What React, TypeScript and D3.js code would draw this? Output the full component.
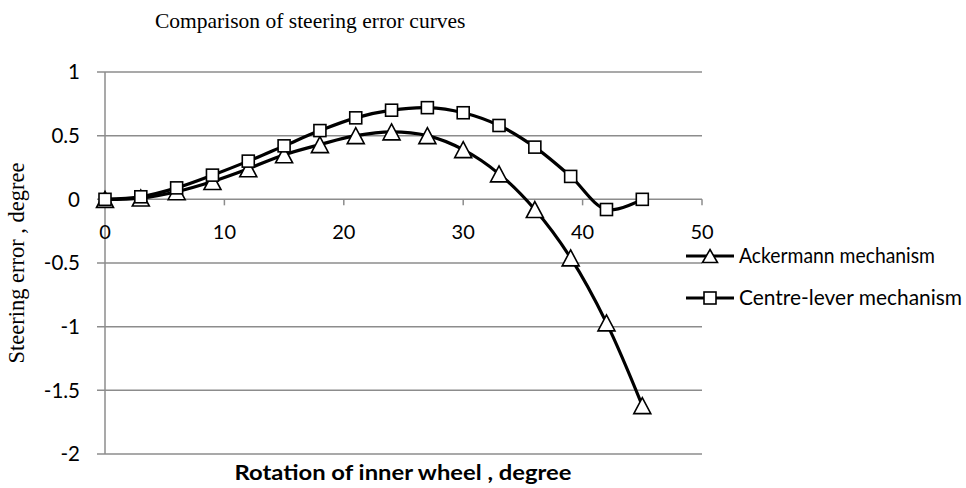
import React from "react";
import * as d3 from "d3";

const angles = [0, 3, 6, 9, 12, 15, 18, 21, 24, 27, 30, 33, 36, 39, 42, 45];
const ackermann = [0, 0.01, 0.06, 0.14, 0.24, 0.35, 0.43, 0.5, 0.53, 0.5, 0.39, 0.2, -0.08, -0.46, -0.97, -1.62];
const centreLever = [0, 0.02, 0.09, 0.19, 0.3, 0.42, 0.54, 0.64, 0.7, 0.72, 0.68, 0.58, 0.41, 0.18, -0.08, 0];
const xTicks = [0, 10, 20, 30, 40, 50];
const yTicks = [1, 0.5, 0, -0.5, -1, -1.5, -2];
const yTickLabels = ["1", "0.5", "0", "-0.5", "-1", "-1.5", "-2"];
const seriesNames = ["Ackermann mechanism", "Centre-lever mechanism"];

const W = 966;
const H = 488;

export default function App() {
  const x = d3.scaleLinear().domain([0, 50]).range([105, 702]);
  const y = d3.scaleLinear().domain([-2, 1]).range([454, 72]);
  const sans = "Lato, 'Open Sans', sans-serif";
  const serif = "'Liberation Serif', 'DejaVu Serif', serif";

  const line = d3
    .line<number>()
    .x((_, i) => x(angles[i]))
    .y((d) => y(d))
    .curve(d3.curveCatmullRom.alpha(0.5));

  const tri = (cx: number, cy: number, w: number, h: number) =>
    `M${cx},${cy - h / 2} L${cx + w / 2},${cy + h / 2} L${cx - w / 2},${cy + h / 2} Z`;

  return (
    <svg width={W} height={H} style={{ position: "absolute", left: 0, top: 0, background: "#fff" }}>
      <rect x={0} y={0} width={W} height={H} fill="#fff" />
      <text x={155} y={28} fontFamily={serif} fontSize={21.5} fill="#000">
        Comparison of steering error curves
      </text>

      {/* gridlines */}
      {yTicks.map((t) => (
        <line key={"g" + t} x1={97} x2={702} y1={y(t)} y2={y(t)} stroke="#8c8c8c" strokeWidth={1.5} />
      ))}
      <line x1={x(0)} x2={x(0)} y1={y(1)} y2={y(-2)} stroke="#8c8c8c" strokeWidth={1.5} />
      {xTicks.map((t) => (
        <line key={"xt" + t} x1={x(t)} x2={x(t)} y1={y(0)} y2={y(0) + 6} stroke="#8c8c8c" strokeWidth={1.5} />
      ))}

      {/* y tick labels */}
      {yTicks.map((t, i) => (
        <text key={"yl" + t} x={80} y={y(t)} dy="0.35em" textAnchor="end" fontFamily={sans} fontSize={20.5} fill="#000">
          {yTickLabels[i]}
        </text>
      ))}
      {/* x tick labels */}
      {xTicks.map((t) => (
        <text key={"xl" + t} x={x(t)} y={239} textAnchor="middle" fontFamily={sans} fontSize={20} fill="#000">
          {t}
        </text>
      ))}

      {/* series */}
      <path d={line(ackermann) || ""} fill="none" stroke="#000" strokeWidth={3.2} />
      <path d={line(centreLever) || ""} fill="none" stroke="#000" strokeWidth={3.2} />
      {ackermann.map((v, i) => (
        <path key={"a" + i} d={tri(x(angles[i]), y(v), 17, 16)} fill="#fff" stroke="#000" strokeWidth={1.6} />
      ))}
      {centreLever.map((v, i) => (
        <rect key={"c" + i} x={x(angles[i]) - 6} y={y(v) - 6} width={12} height={12} fill="#fff" stroke="#000" strokeWidth={1.6} />
      ))}

      {/* axis titles */}
      <text
        transform={`translate(24,263) rotate(-90)`}
        textAnchor="middle"
        fontFamily={serif}
        fontSize={22.5}
        fill="#000"
      >
        Steering error , degree
      </text>
      <text x={403} y={480} textAnchor="middle" fontFamily={sans} fontSize={21} fontWeight="bold" fill="#000" textLength={337} lengthAdjust="spacingAndGlyphs">
        Rotation of inner wheel , degree
      </text>

      {/* legend */}
      <line x1={686} x2={734} y1={256} y2={256} stroke="#000" strokeWidth={3.2} />
      <path d={tri(710, 256, 15, 13)} fill="#fff" stroke="#000" strokeWidth={1.6} />
      <text x={739} y={256} dy="0.35em" fontFamily={sans} fontSize={21} fill="#000" textLength={196} lengthAdjust="spacingAndGlyphs">
        {seriesNames[0]}
      </text>
      <line x1={686} x2={734} y1={298} y2={298} stroke="#000" strokeWidth={3.2} />
      <rect x={704} y={292} width={12} height={12} fill="#fff" stroke="#000" strokeWidth={1.6} />
      <text x={739} y={298} dy="0.35em" fontFamily={sans} fontSize={21} fill="#000" textLength={223} lengthAdjust="spacingAndGlyphs">
        {seriesNames[1]}
      </text>
    </svg>
  );
}
